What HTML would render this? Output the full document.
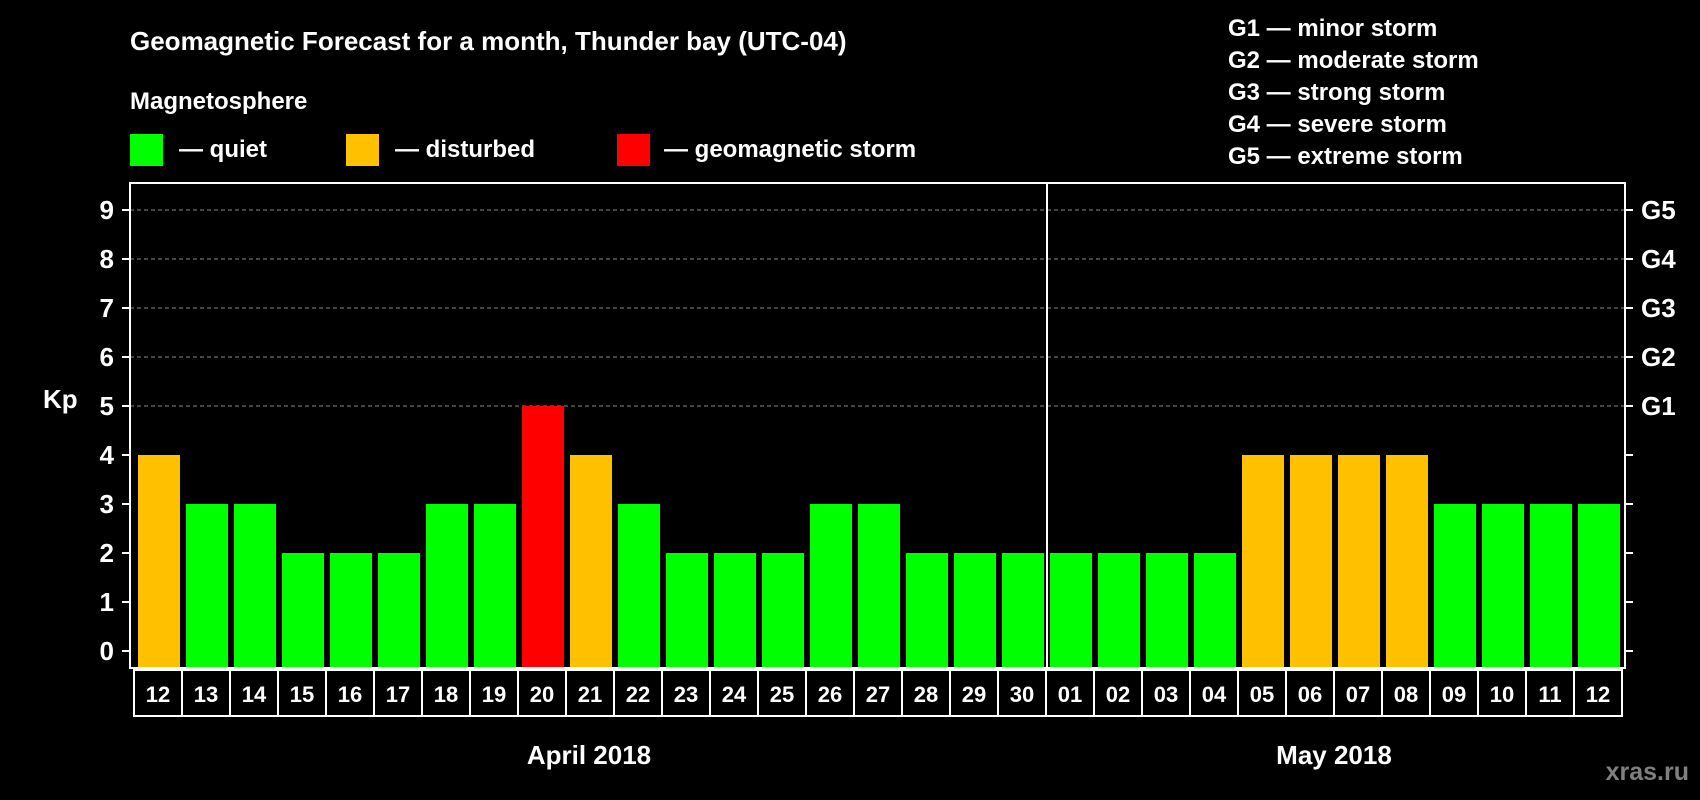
<!DOCTYPE html>
<html><head><meta charset="utf-8"><style>
html,body{margin:0;padding:0;background:#000;}
svg{display:block;font-family:"Liberation Sans",Arial,sans-serif;font-weight:bold;}
</style></head><body>
<svg id="chart" width="1700" height="800" viewBox="0 0 1700 800">
<rect width="1700" height="800" fill="#000"/>
<text x="130" y="50" font-size="26" fill="#fff">Geomagnetic Forecast for a month, Thunder bay (UTC-04)</text>
<text x="130" y="109" font-size="24" fill="#fff">Magnetosphere</text>
<g><rect x="130" y="134" width="33" height="32" fill="#00ff00"/><text x="179" y="157" font-size="24" fill="#fff">— quiet</text></g>
<g><rect x="346" y="134" width="33" height="32" fill="#ffc000"/><text x="395" y="157" font-size="24" fill="#fff">— disturbed</text></g>
<g><rect x="617" y="134" width="33" height="32" fill="#ff0000"/><text x="664" y="157" font-size="24" fill="#fff">— geomagnetic storm</text></g>
<g font-size="24" fill="#fff">
<text x="1228" y="36">G1 — minor storm</text>
<text x="1228" y="68">G2 — moderate storm</text>
<text x="1228" y="100">G3 — strong storm</text>
<text x="1228" y="132">G4 — severe storm</text>
<text x="1228" y="164">G5 — extreme storm</text>
</g>
<text x="43" y="408" font-size="26" fill="#fff">Kp</text>
<g id="grid"></g>
<g id="bars"></g>
<g id="axes"></g>
<text x="589" y="764" font-size="26" fill="#fff" text-anchor="middle">April 2018</text>
<text x="1334" y="764" font-size="26" fill="#fff" text-anchor="middle">May 2018</text>
<text x="1689" y="780" font-size="25" fill="#808080" text-anchor="end">xras.ru</text>
</svg>
<script>
const days = ["12","13","14","15","16","17","18","19","20","21","22","23","24","25","26","27","28","29","30","01","02","03","04","05","06","07","08","09","10","11","12"];
const kpValues = [4,3,3,2,2,2,3,3,5,4,3,2,2,2,3,3,2,2,2,2,2,2,2,4,4,4,4,3,3,3,3];
const yTicks = [0,1,2,3,4,5,6,7,8,9];
const gLabels = ["G1","G2","G3","G4","G5"];
const monthSplitIndex = 19;

const NS = "http://www.w3.org/2000/svg";
const plotLeft = 130, plotRight = 1625, plotTop = 183, plotBottom = 668;
const yZero = 651, unitPx = 49, slotStart = 138, pitch = 48, barW = 42;
function yScale(v) { return yZero - v * unitPx; }
function xScale(i) { return slotStart + i * pitch; }
function mk(tag, attrs, parent) {
  const e = document.createElementNS(NS, tag);
  for (const k in attrs) e.setAttribute(k, attrs[k]);
  parent.appendChild(e);
  return e;
}
const gridG = document.getElementById('grid');
const barsG = document.getElementById('bars');
const axesG = document.getElementById('axes');
function barColor(v) { return v >= 5 ? "#ff0000" : (v >= 4 ? "#ffc000" : "#00ff00"); }

yTicks.forEach(function (t) {
  const y = yScale(t);
  if (t >= 5) {
    const g = mk('line', {x1: plotLeft, x2: plotRight, y1: y, y2: y, stroke: "#888", "stroke-dasharray": "4,3", "stroke-width": 1}, gridG);
    
    
  }
  const tl = mk('line', {x1: plotLeft - 8, x2: plotLeft, y1: y, y2: y, stroke: "#fff", "stroke-width": 2}, axesG);
  
  
  const tr = mk('line', {x1: plotRight, x2: plotRight + 8, y1: y, y2: y, stroke: "#fff", "stroke-width": 2}, axesG);
  
  
  const lab = mk('text', {x: 114, y: y + 9, "font-size": 26, fill: "#fff", "text-anchor": "end"}, axesG);
  lab.textContent = t;
  
  
  if (t >= 5) {
    const gl = mk('text', {x: 1641, y: y + 9, "font-size": 26, fill: "#fff"}, axesG);
    gl.textContent = gLabels[t - 5];
    
    
  }
});

kpValues.forEach(function (v, i) {
  const x = xScale(i);
  const b = mk('rect', {x: x, y: yScale(v), width: barW, height: plotBottom - yScale(v), fill: barColor(v)}, barsG);
  
  
  const box = mk('rect', {x: x - 4, y: 670, width: pitch, height: 46, fill: "none", stroke: "#fff", "stroke-width": 2}, axesG);
  
  
  const t = mk('text', {x: x - 4 + pitch / 2, y: 702, "font-size": 22, fill: "#fff", "text-anchor": "middle"}, axesG);
  t.textContent = days[i];
  
  
});

const frame = mk('rect', {x: plotLeft, y: plotTop, width: plotRight - plotLeft, height: plotBottom - plotTop, fill: "none", stroke: "#fff", "stroke-width": 2}, axesG);


const sepX = xScale(monthSplitIndex) - 3;
const sep = mk('line', {x1: sepX, x2: sepX, y1: plotTop, y2: plotBottom, stroke: "#fff", "stroke-width": 2}, axesG);


</script>
</body></html>
